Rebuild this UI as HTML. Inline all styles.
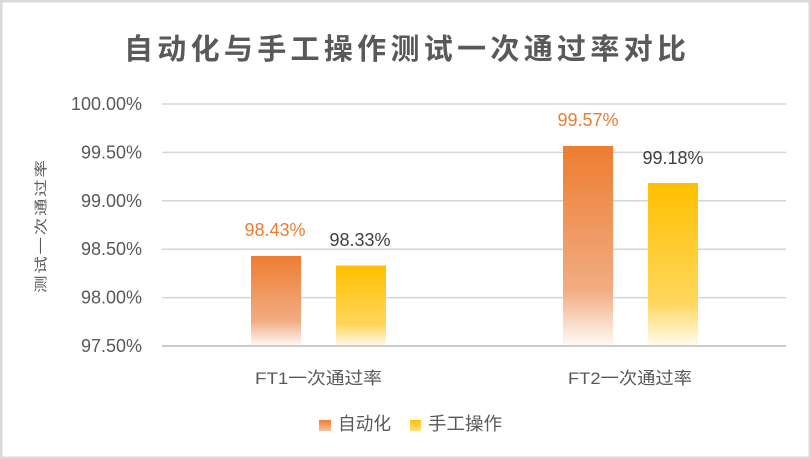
<!DOCTYPE html>
<html>
<head>
<meta charset="utf-8">
<style>
  html,body{margin:0;padding:0;background:#fff;}
  svg{display:block;}
  text{font-family:"Liberation Sans","Noto Sans CJK SC",sans-serif;}
</style>
</head>
<body>
<svg width="811" height="459" viewBox="0 0 811 459" xmlns="http://www.w3.org/2000/svg">
  <defs>
    <linearGradient id="gO" x1="0" y1="0" x2="0" y2="1">
      <stop offset="0" stop-color="#ED7D31"/>
      <stop offset="0.72" stop-color="#F2AC82"/>
      <stop offset="1" stop-color="#FEFAF7"/>
    </linearGradient>
    <linearGradient id="gY" x1="0" y1="0" x2="0" y2="1">
      <stop offset="0" stop-color="#FFC000"/>
      <stop offset="0.73" stop-color="#FFD65C"/>
      <stop offset="1" stop-color="#FFFBF0"/>
    </linearGradient>
    <linearGradient id="lO" x1="0" y1="0" x2="0" y2="1">
      <stop offset="0" stop-color="#ED7D31"/>
      <stop offset="1" stop-color="#F6C3A0"/>
    </linearGradient>
    <linearGradient id="lY" x1="0" y1="0" x2="0" y2="1">
      <stop offset="0" stop-color="#FFC000"/>
      <stop offset="1" stop-color="#FFE380"/>
    </linearGradient>
  </defs>

  <rect x="0" y="0" width="811" height="459" fill="#fff"/>
  <rect x="1.25" y="1.25" width="808.5" height="456.5" fill="none" stroke="#d9d9d9" stroke-width="2.5"/>

  <!-- Title -->
  <text x="405" y="59" font-size="29" font-weight="bold" fill="#595959" text-anchor="middle" textLength="562" lengthAdjust="spacing">自动化与手工操作测试一次通过率对比</text>

  <!-- Gridlines -->
  <g stroke="#d5d5d5" stroke-width="1.5">
    <line x1="162" y1="104" x2="786" y2="104"/>
    <line x1="162" y1="152.4" x2="786" y2="152.4"/>
    <line x1="162" y1="200.8" x2="786" y2="200.8"/>
    <line x1="162" y1="249.2" x2="786" y2="249.2"/>
    <line x1="162" y1="297.6" x2="786" y2="297.6"/>
  </g>

  <!-- Bars -->
  <rect x="251" y="256" width="50" height="90" fill="url(#gO)"/>
  <rect x="336" y="265.5" width="50" height="80.5" fill="url(#gY)"/>
  <rect x="563" y="146" width="50" height="200" fill="url(#gO)"/>
  <rect x="648" y="183" width="50" height="163" fill="url(#gY)"/>

  <line x1="162" y1="346" x2="786" y2="346" stroke="#cccccc" stroke-width="2"/>

  <!-- Y tick labels -->
  <g font-size="18" fill="#595959" text-anchor="end">
    <text x="142" y="110">100.00%</text>
    <text x="142" y="158.4">99.50%</text>
    <text x="142" y="206.8">99.00%</text>
    <text x="142" y="255.2">98.50%</text>
    <text x="142" y="303.6">98.00%</text>
    <text x="142" y="352">97.50%</text>
  </g>

  <!-- Y axis title -->
  <text transform="translate(41,226.5) scale(0.75,1) rotate(-90)" x="0" y="6" font-size="17.5" fill="#595959" text-anchor="middle" textLength="133" lengthAdjust="spacing">测试一次通过率</text>

  <!-- Data labels -->
  <g font-size="18" text-anchor="middle">
    <text x="275" y="236" fill="#ED7D31">98.43%</text>
    <text x="360" y="246" fill="#404040">98.33%</text>
    <text x="588" y="126" fill="#ED7D31">99.57%</text>
    <text x="673" y="164" fill="#404040">99.18%</text>
  </g>

  <!-- Category labels -->
  <g font-size="17" fill="#595959" text-anchor="middle">
    <text x="318.5" y="384" textLength="127" lengthAdjust="spacingAndGlyphs">FT1一次通过率</text>
    <text x="630" y="384" textLength="124" lengthAdjust="spacingAndGlyphs">FT2一次通过率</text>
  </g>

  <!-- Legend -->
  <rect x="319" y="420" width="12" height="11" fill="url(#lO)"/>
  <text x="338" y="430" font-size="18" fill="#595959" textLength="53" lengthAdjust="spacingAndGlyphs">自动化</text>
  <rect x="410" y="420" width="11" height="11" fill="url(#lY)"/>
  <text x="428" y="430" font-size="18" fill="#595959" textLength="74" lengthAdjust="spacingAndGlyphs">手工操作</text>
</svg>
</body>
</html>
